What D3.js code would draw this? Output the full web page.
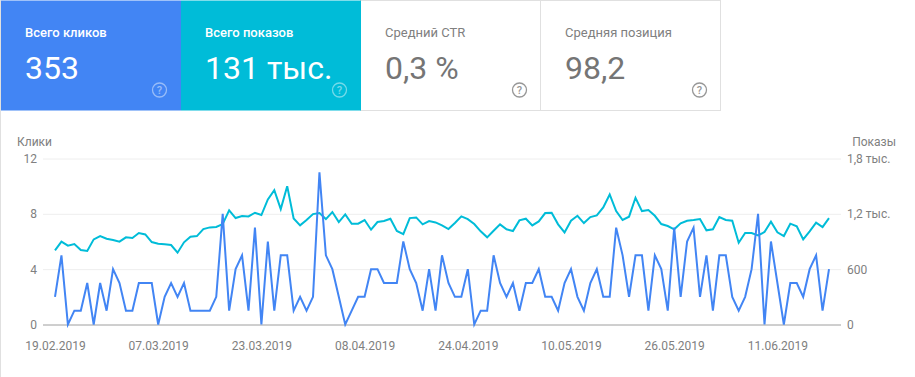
<!DOCTYPE html>
<html>
<head>
<meta charset="utf-8">
<script src="https://cdn.jsdelivr.net/npm/d3@7"></script>
<style>
  html, body { margin: 0; padding: 0; background: #fff; }
  svg { display: block; font-family: Roboto, sans-serif; }
</style>
</head>
<body>
<div id="chart"></div>
<script>
// Values, one per day from 19.02.2019
const clicks = [
  2,5,0,1,1,3,0,3,1,4,3,1,1,3,3,3,0,2,3,2,3,1,1,1,1,2,8,1,4,5,1,7,0,6,1,5,5,1,2,1,
  2,11,5,4,2,0,1,2,2,4,4,3,3,3,6,4,3,1,4,1,5,3,2,2,4,0,1,1,5,3,2,3,1,3,3,4,2,2,1,3,
  4,2,1,3,4,2,2,7,5,2,5,5,1,5,4,1,7,2,6,7,2,5,1,5,5,2,1,2,4,8,0,6,3,0,3,3,2,4,5,1,4
];
const impressions = [
  804,898,855,873,808,797,923,959,930,916,898,945,938,992,977,894,876,869,862,779,
  891,952,959,1035,1053,1057,1089,1237,1154,1176,1172,1212,1187,1356,1457,1252,1500,1150,1075,1133,
  1197,1208,1143,1219,1111,1194,1093,1093,1133,1028,1111,1122,1147,1014,981,1154,1161,1086,1122,1107,
  1075,1035,1100,1172,1143,1089,1010,945,1017,1086,1032,1014,1129,1147,1075,1118,1208,1212,1086,999,
  1125,1179,1100,1165,1183,1270,1410,1230,1133,1169,1374,1230,1241,1179,1089,1068,1032,1097,1125,1133,
  1143,1021,1032,1165,1133,1125,887,992,992,967,1003,1115,999,959,1093,1064,923,1010,1104,1057,1154
];
const startDate = "19.02.2019";
const dateTicks = ["19.02.2019","07.03.2019","23.03.2019","08.04.2019","24.04.2019","10.05.2019","26.05.2019","11.06.2019"];
const clickTicks = [0, 4, 8, 12];
const impressionTicks = [0, 600, 1200, 1800];

const cardTitles = ["Всего кликов", "Всего показов", "Средний CTR", "Средняя позиция"];
const cardValues = ["353", "131 тыс.", "0,3 %", "98,2"];

const blue = "#4285f4", teal = "#00bcd8", grey = "#757575", lightGrey = "#808080";

const width = 915, height = 377;
const svg = d3.select("#chart").append("svg")
    .attr("width", width)
    .attr("height", height);

// Page edge
svg.append("rect").attr("width", 1).attr("height", height).attr("fill", "#e0e0e0");

// Cards on top
const cardW = 180, cardH = 110;
const cardFills = [blue, teal, "#fff", "#fff"];
const card = svg.selectAll("g.card").data(cardTitles).join("g")
    .attr("class", "card")
    .attr("transform", (d, i) => `translate(${1 + i * cardW},0)`);

card.append("rect")
    .attr("x", (d, i) => i < 2 ? 0 : -0.5)
    .attr("y", 0.5)
    .attr("width", cardW)
    .attr("height", cardH)
    .attr("fill", (d, i) => cardFills[i])
    .attr("stroke", (d, i) => i < 2 ? "none" : "#e0e0e0");

card.append("text")
    .attr("x", 24)
    .attr("y", 37)
    .attr("font-size", 13)
    .attr("font-weight", (d, i) => i < 2 ? 500 : 400)
    .attr("fill", (d, i) => i < 2 ? "#fff" : lightGrey)
    .text(d => d);

card.append("text")
    .attr("x", 24)
    .attr("y", 79)
    .attr("font-size", 32)
    .attr("font-weight", 400)
    .attr("fill", (d, i) => i < 2 ? "#fff" : grey)
    .text((d, i) => cardValues[i]);

// Help icons
const help = card.append("g")
    .attr("transform", "translate(158.5,90)")
    .attr("opacity", (d, i) => i < 2 ? 0.45 : 0.75);
help.append("circle")
    .attr("r", 7)
    .attr("fill", "none")
    .attr("stroke", (d, i) => i < 2 ? "#fff" : grey)
    .attr("stroke-width", 1.3);
help.append("text")
    .attr("text-anchor", "middle")
    .attr("y", 4)
    .attr("font-size", 11)
    .attr("font-weight", 500)
    .attr("fill", (d, i) => i < 2 ? "#fff" : grey)
    .text("?");

// coloured cards stay above the neighbour's border
card.filter((d, i) => i < 2).raise();

// Chart
const parseDate = d3.utcParse("%d.%m.%Y");
const formatDate = d3.utcFormat("%d.%m.%Y");
const start = parseDate(startDate);
const dates = clicks.map((d, i) => d3.utcDay.offset(start, i));

const x = d3.scaleUtc()
    .domain(d3.extent(dates))
    .range([55, 829]);
const yLeft = d3.scaleLinear().domain([0, 12]).range([324.5, 158.5]);
const yRight = d3.scaleLinear().domain([0, 1800]).range([324.5, 158.5]);

// Grid lines
svg.append("g")
    .attr("transform", "translate(43,0)")
    .call(d3.axisLeft(yLeft).tickValues(clickTicks).tickSize(-798).tickFormat(""))
    .call(g => g.select(".domain").remove())
    .call(g => g.selectAll("line")
        .attr("stroke", d => d === 0 ? "#9e9e9e" : "#eeeeee"));

const axisText = g => {
    g.select(".domain").remove();
    g.selectAll("line").remove();
    g.selectAll("text")
        .attr("font-family", "Roboto, sans-serif")
        .attr("font-size", 12)
        .attr("fill", lightGrey);
};

svg.append("g")
    .attr("transform", "translate(42,0)")
    .call(d3.axisLeft(yLeft).tickValues(clickTicks).tickSize(0).tickPadding(5))
    .call(axisText);

svg.append("g")
    .attr("transform", "translate(847,0)")
    .call(d3.axisRight(yRight).tickValues(impressionTicks).tickSize(0).tickPadding(0)
        .tickFormat(d => d === 0 ? "0" : d < 1000 ? String(d) : String(d / 1000).replace(".", ",") + " тыс."))
    .call(axisText);

svg.append("g")
    .attr("transform", "translate(0,336)")
    .call(d3.axisBottom(x).tickValues(dateTicks.map(parseDate)).tickSize(0).tickPadding(5).tickFormat(formatDate))
    .call(axisText);

svg.append("text").attr("x", 17).attr("y", 146)
    .attr("font-size", 12).attr("fill", lightGrey).text("Клики");
svg.append("text").attr("x", 896).attr("y", 146).attr("text-anchor", "end")
    .attr("font-size", 12).attr("fill", lightGrey).text("Показы");

// Lines
const lineImpressions = d3.line()
    .x((d, i) => x(dates[i]))
    .y(d => yRight(d));
const lineClicks = d3.line()
    .x((d, i) => x(dates[i]))
    .y(d => yLeft(d));

svg.append("path")
    .datum(impressions)
    .attr("fill", "none")
    .attr("stroke", teal)
    .attr("stroke-width", 2)
    .attr("d", lineImpressions);

svg.append("path")
    .datum(clicks)
    .attr("fill", "none")
    .attr("stroke", blue)
    .attr("stroke-width", 2)
    .attr("d", lineClicks);
</script>
</body>
</html>
